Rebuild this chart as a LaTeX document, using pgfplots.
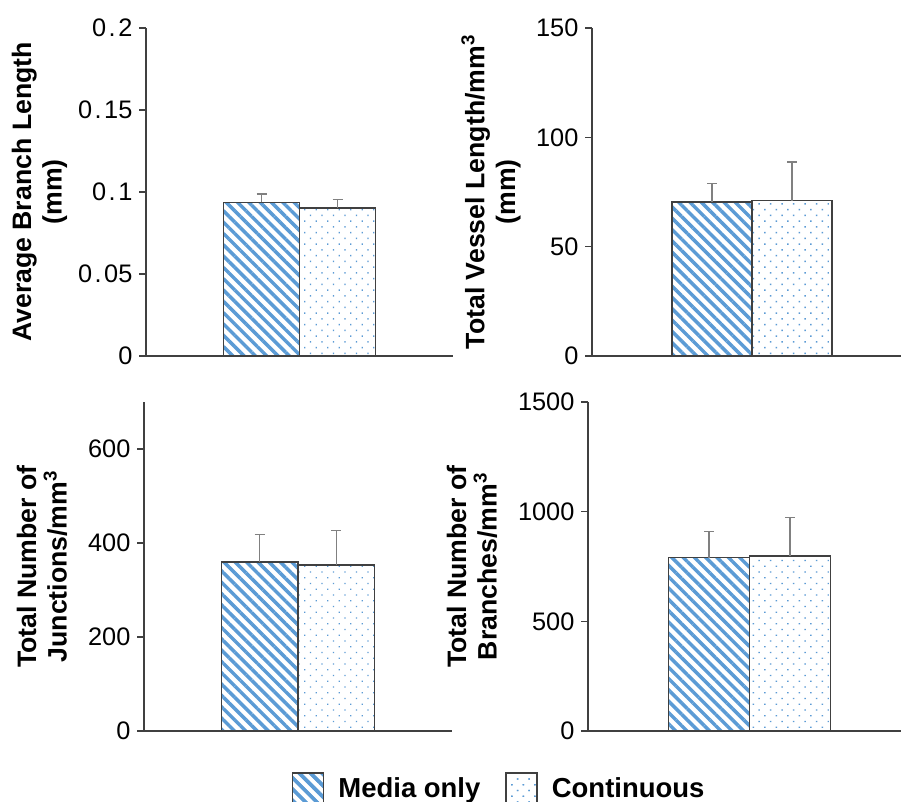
\documentclass[border=0pt]{standalone}
\usepackage{pgfplots}
\pgfplotsset{compat=1.18}
\usetikzlibrary{patterns.meta}
\usepackage{fontspec}
\setmainfont{Liberation Sans}
\definecolor{stripe}{HTML}{5B9BD5}
\definecolor{dotc}{HTML}{5B9BD5}
\definecolor{axc}{HTML}{404040}
\definecolor{errc}{HTML}{808080}
\newcommand{\dt}{\kern0.1em.\kern0.1em}
\pgfplotsset{
  panel/.style={
    scale only axis, anchor=south west,
    axis x line*=bottom, axis y line*=left,
    axis line style={-, draw=axc, line width=1.1pt},
    xtick=\empty, xmin=-0.5, xmax=0.5, ymin=0,
    ytick style={draw=axc, line width=1.1pt},
    tick align=outside, major tick length=5pt,
    yticklabel style={font=\fontsize{19}{22}\selectfont, inner sep=0pt, xshift=-5pt},
    ybar=0pt, clip=false,
    every axis y label/.style={rotate=90, anchor=center, align=center,
       font=\bfseries\fontsize{20}{23}\selectfont},
    error bars/y dir=plus, error bars/y explicit,
    error bars/error bar style={draw=errc, line width=1.1pt},
    error bars/error mark options={draw=errc, line width=1.1pt, mark size=3.75pt, rotate=90},
  },
  media/.style={draw=axc, line width=1.1pt, fill=white,
     postaction={pattern={Lines[angle=-45, distance=6pt, line width=2.6pt]}, pattern color=stripe},
     legend image code/.code={\draw[draw=axc, line width=1.1pt, fill=white, postaction={pattern={Lines[angle=-45, distance=6pt, line width=2.6pt]}, pattern color=stripe}] (0pt,-11.6pt) rectangle (23.25pt,11.6pt);}},
  cont/.style={draw=axc, line width=1.1pt, fill=white,
     postaction={pattern={Dots[angle=45, distance=6.1pt, radius=0.7pt]}, pattern color=dotc},
     legend image code/.code={\draw[draw=axc, line width=1.1pt, fill=white, postaction={pattern={Dots[angle=45, distance=6.1pt, radius=0.7pt]}, pattern color=dotc}] (0pt,-11.6pt) rectangle (23.25pt,11.6pt);}},
}
\begin{document}
\begin{tikzpicture}
\useasboundingbox (0,0) rectangle (675.75pt,601.5pt);
% top left
\begin{axis}[panel, at={(109.5pt,334.5pt)}, width=230.25pt, height=246pt,
  bar width=57pt, ymax=0.2, ytick={0,0.05,0.1,0.15,0.2},
  yticklabels={0,0\dt05,0\dt1,0\dt15,0\dt2},
  ylabel={Average Branch Length\\(mm)},
  ylabel style={at={([xshift=-79.9pt]axis description cs:0,0.5)}}]
\addplot[media] coordinates {(0,0.0937) +- (0,0.0051)};
\addplot[cont] coordinates {(0,0.0902) +- (0,0.0053)};
\end{axis}
% top right
\begin{axis}[panel, at={(444pt,334.5pt)}, width=240pt, height=246pt,
  bar width=60pt, ymax=150, ytick={0,50,100,150},
  yticklabels={0,50,100,150},
  ylabel={Total Vessel Length/mm\textsuperscript{3}\\(mm)},
  ylabel style={at={([xshift=-75.75pt]axis description cs:0,0.5)}}]
\addplot[media] coordinates {(0,70.5) +- (0,8.5)};
\addplot[cont] coordinates {(0,71.1) +- (0,17.6)};
\end{axis}
% bottom left
\begin{axis}[panel, at={(108pt,53.25pt)}, width=231pt, height=246.75pt,
  bar width=57.4pt, ymax=700, ytick={0,200,400,600},
  yticklabels={0,200,400,600},
  ylabel={Total Number of\\Junctions/mm\textsuperscript{3}},
  ylabel style={at={([xshift=-76.5pt]axis description cs:0,0.5)}},
  legend columns=2,
  legend style={draw=none, fill=none, inner sep=0pt, outer sep=0pt,
    at={(axis description cs:0.4805,-0.1748)}, anchor=west,
    font=\bfseries\fontsize{20.6}{24}\selectfont,
    nodes={inner sep=0pt},
    /tikz/every odd column/.append style={column sep=10.5pt},
    /tikz/every even column/.append style={column sep=18.75pt}}]
\addplot[media] coordinates {(0,360) +- (0,58)};
\addlegendentry{Media only}
\addplot[cont] coordinates {(0,353) +- (0,74)};
\addlegendentry{Continuous}
\end{axis}
% bottom right
\begin{axis}[panel, at={(441pt,53.25pt)}, width=242.25pt, height=246.75pt,
  bar width=60.75pt, ymax=1500, ytick={0,500,1000,1500},
  yticklabels={0,500,1000,1500},
  ylabel={Total Number of\\Branches/mm\textsuperscript{3}},
  ylabel style={at={([xshift=-87pt]axis description cs:0,0.5)}}]
\addplot[media] coordinates {(0,790) +- (0,119)};
\addplot[cont] coordinates {(0,797) +- (0,176)};
\end{axis}
\end{tikzpicture}
\end{document}
